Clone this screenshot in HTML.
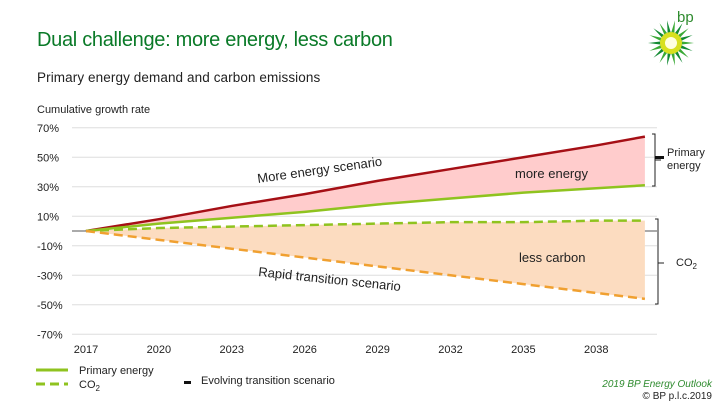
<!DOCTYPE html>
<html><head><meta charset="utf-8"><style>
body{margin:0;width:720px;height:405px;background:#fff;overflow:hidden;font-family:"Liberation Sans",sans-serif;}
svg{position:absolute;left:0;top:0}
text{font-family:"Liberation Sans",sans-serif}
</style></head><body>
<svg width="720" height="405" id="c">
<text x="37" y="46" font-size="20" fill="#0a7a28" letter-spacing="-0.3">Dual challenge: more energy, less carbon</text>
<text x="37" y="82" font-size="13.5" fill="#222" letter-spacing="0.1">Primary energy demand and carbon emissions</text>
<text x="37" y="113" font-size="11" fill="#222">Cumulative growth rate</text>
<g>
<text x="677" y="22" font-size="15" fill="#2e8b2e">bp</text>
<g id="sun"></g>
</g>
<g id="grid"></g><g id="areas"></g><g id="lines"></g><g id="labels"></g>
<text x="258" y="183" font-size="13" fill="#222" transform="rotate(-8 258 183)">More energy scenario</text>
<text x="258" y="276" font-size="13" fill="#222" transform="rotate(6 258 276)">Rapid transition scenario</text>
<text x="515" y="178" font-size="13" fill="#222">more energy</text>
<text x="519" y="262" font-size="13" fill="#222">less carbon</text>
<path d="M652 134 h3 v52 h-3 M655 160 h6" stroke="#222" fill="none"/>
<rect x="655" y="156" width="9" height="3" fill="#111"/>
<text x="667" y="156" font-size="11" fill="#222">Primary</text>
<text x="667" y="169" font-size="11" fill="#222">energy</text>
<path d="M655 219 h3 v85 h-3 M658 263 h6" stroke="#222" fill="none"/>
<text x="676" y="266" font-size="11" fill="#222">CO<tspan font-size="8" dy="3">2</tspan></text>
<g>
<line x1="36" y1="370" x2="68" y2="370" stroke="#8fc31f" stroke-width="3"/>
<text x="79" y="374" font-size="11" fill="#222">Primary energy</text>
<line x1="36" y1="384" x2="68" y2="384" stroke="#8fc31f" stroke-width="3" stroke-dasharray="9 5"/>
<text x="79" y="388" font-size="11" fill="#222">CO<tspan font-size="8" dy="3">2</tspan></text>
<rect x="184" y="381" width="7" height="3" fill="#111"/>
<text x="201" y="384" font-size="11" fill="#222">Evolving transition scenario</text>
</g>
<text x="712" y="387" font-size="10" fill="#2e8b2e" font-style="italic" text-anchor="end">2019 BP Energy Outlook</text>
<text x="712" y="399" font-size="10" fill="#222" text-anchor="end">© BP p.l.c.2019</text>
</svg>
<script>
const years=[2017,2020,2023,2026,2029,2032,2035,2038,2040];
const moreEnergy=[0,8,17,25,34,42,50,58,64];
const primaryEnergy=[0,5,9,13,18,22,26,29,31];
const co2Evolving=[0,2,3,4,5,6,6,7,7];
const co2Rapid=[0,-6,-12,-18,-24,-30,-36,-42,-46];
const yTicks=[70,50,30,10,-10,-30,-50,-70];
const xTicks=[2017,2020,2023,2026,2029,2032,2035,2038];
const NS="http://www.w3.org/2000/svg";
const X=y=>86+(y-2017)*24.3;
const Y=v=>231-v*1.475;
function el(t,a,p){const e=document.createElementNS(NS,t);for(const k in a)e.setAttribute(k,a[k]);document.getElementById(p).appendChild(e);return e;}
yTicks.forEach(v=>{
 const l=el('line',{x1:72,x2:657,y1:Y(v),y2:Y(v),stroke:'#ddd'},'grid');
 
 
 const t=el('text',{x:37,y:Y(v)+4,'font-size':11,fill:'#222'},'grid');t.textContent=v+'%';
 
 
});
const z=el('line',{x1:72,x2:657,y1:Y(0),y2:Y(0),stroke:'#555'},'grid');


xTicks.forEach(y=>{const t=el('text',{x:X(y),y:353,'font-size':11,fill:'#222','text-anchor':'middle'},'grid');t.textContent=y;
 
 });
const pts=a=>a.map((v,i)=>X(years[i])+','+Y(v));
function area(a,b,c,n){const p=el('polygon',{points:pts(a).concat(pts(b).reverse()).join(' '),fill:c},'areas');
 
 }
area(moreEnergy,primaryEnergy,'#ffcccc','more-energy-area');
area(co2Evolving,co2Rapid,'#fcdcc0','less-carbon-area');
function line(a,c,d,n){const p=el('polyline',{points:pts(a).join(' '),fill:'none',stroke:c,'stroke-width':2.5,'stroke-dasharray':d},'lines');
 
 }
line(moreEnergy,'#a50f15','none','more-energy-line');
line(primaryEnergy,'#8fc31f','none','primary-energy-line');
line(co2Evolving,'#8fc31f','9 5','co2-evolving-line');
line(co2Rapid,'#f0a030','9 5','co2-rapid-line');
const s=document.getElementById('sun');
for(let i=0;i<18;i++){const a=i*20*Math.PI/180;const cx=671,cy=43;
 const p=document.createElementNS(NS,'polygon');
 const r1=23,r0=9;const a1=a-0.2,a2=a+0.2;
 p.setAttribute('points',`${cx+r0*Math.cos(a1)},${cy+r0*Math.sin(a1)} ${cx+r1*Math.cos(a)},${cy+r1*Math.sin(a)} ${cx+r0*Math.cos(a2)},${cy+r0*Math.sin(a2)}`);
 p.setAttribute('fill',i%2?'#138a33':'#3aa935');s.appendChild(p);}
const c1=document.createElementNS(NS,'circle');c1.setAttribute('cx',671);c1.setAttribute('cy',43);c1.setAttribute('r',11);c1.setAttribute('fill','#d8e020');s.appendChild(c1);
const c2=document.createElementNS(NS,'circle');c2.setAttribute('cx',671);c2.setAttribute('cy',43);c2.setAttribute('r',6);c2.setAttribute('fill','#ffffe0');s.appendChild(c2);
</script>
</body></html>
